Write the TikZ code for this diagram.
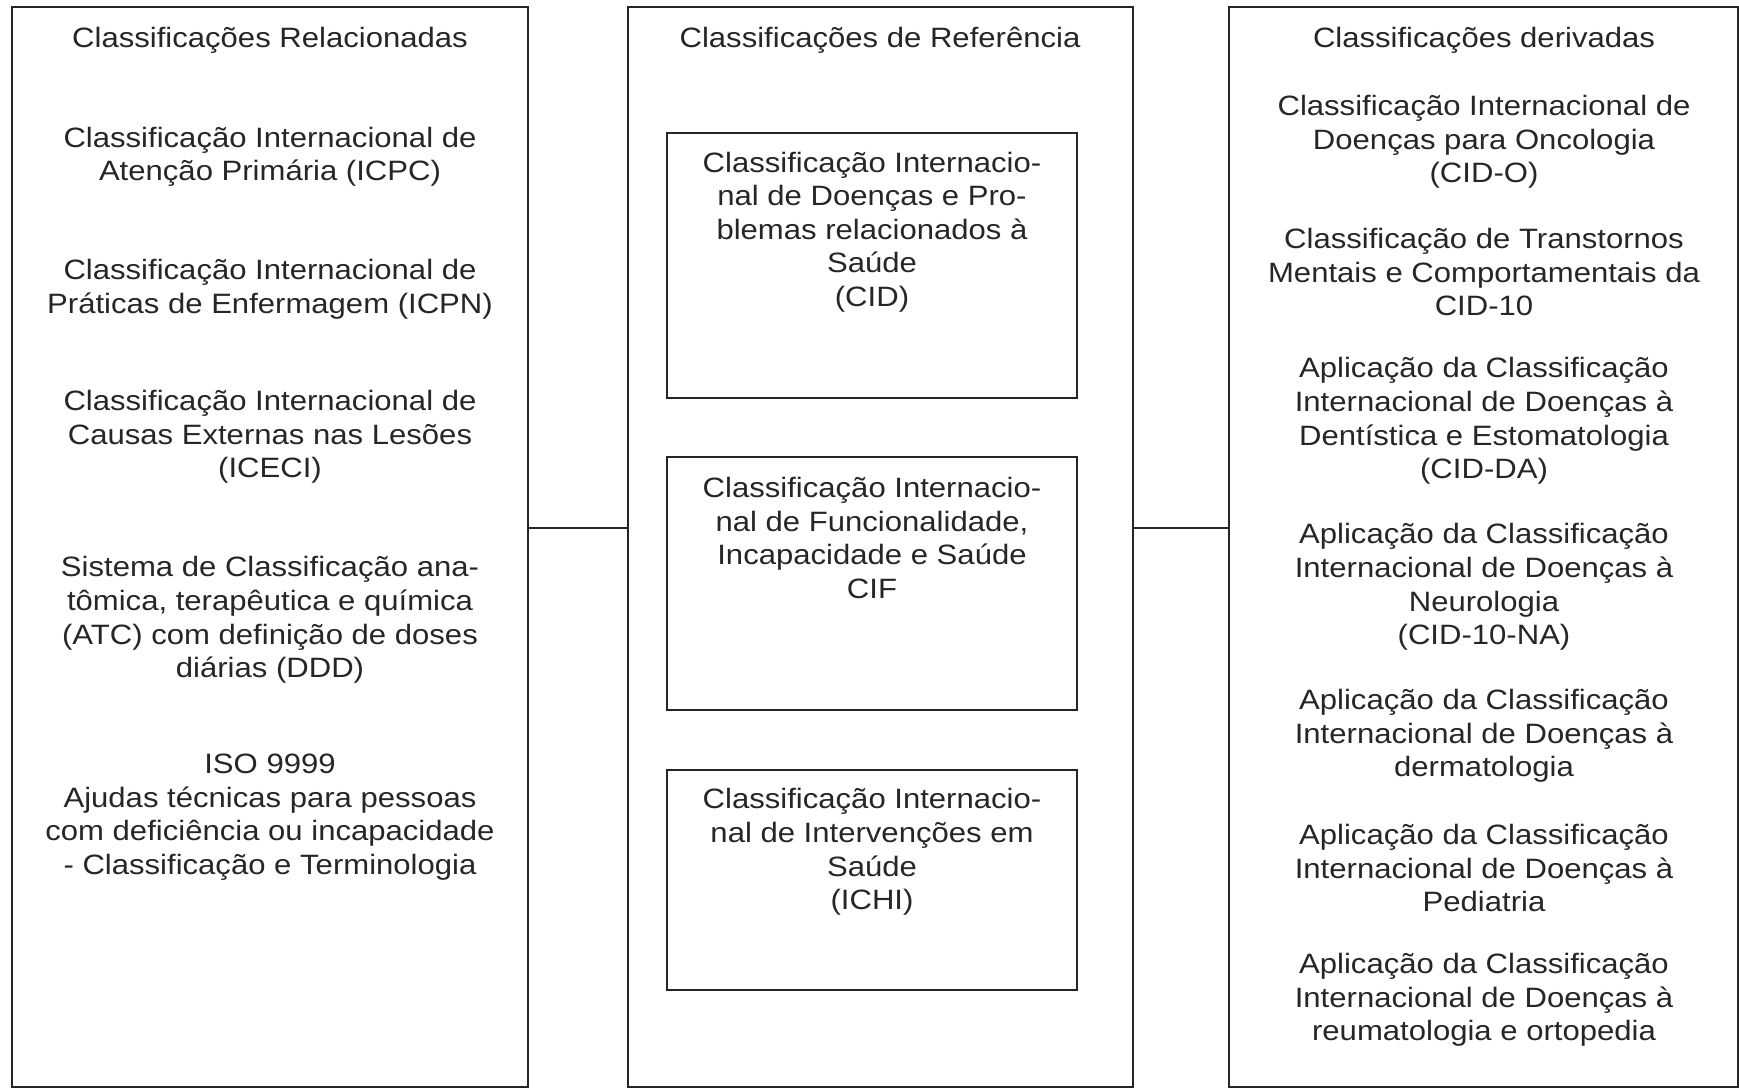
\documentclass[tikz,border=0pt]{standalone}
\usepackage{fontspec}
\setmainfont{Liberation Sans}[FakeStretch=1.11]
\begin{document}
\begin{tikzpicture}[x=0.5pt,y=-0.5pt,
  frame/.style={draw=black!85, line width=1.1pt, inner sep=0pt, rectangle},
  txt/.style={font=\fontsize{14}{16.8}\selectfont, align=center, inner sep=0pt, text=black!85},
  conn/.style={draw=black!85, line width=1.1pt}]
\useasboundingbox (0,0) rectangle (1739,1088);
% outer columns
\node[frame, minimum width=258pt, minimum height=540pt] (lbox) at (270,547) {};
\node[frame, minimum width=252.5pt, minimum height=540pt] (mbox) at (880.5,547) {};
\node[frame, minimum width=254.5pt, minimum height=540pt] (rbox) at (1483.5,547) {};
% inner boxes
\node[frame, minimum width=205pt, minimum height=132.5pt] (cid) at (872,265.5) {};
\node[frame, minimum width=205pt, minimum height=126.5pt] (cif) at (872,583.5) {};
\node[frame, minimum width=205pt, minimum height=110pt] (ichi) at (872,880) {};
% connectors
\coordinate (cy) at (0,528);
\draw[conn] (lbox.east |- cy) -- (mbox.west |- cy);
\draw[conn] (mbox.east |- cy) -- (rbox.west |- cy);
% titles
\node[txt] (lt) at (270,40) {Classificações Relacionadas};
\node[txt] (mt) at (880,40) {Classificações de Referência};
\node[txt] (rt) at (1484,40) {Classificações derivadas};
% left texts
\node[txt] (l1) at (270,157) {Classificação Internacional de\\Atenção Primária (ICPC)};
\node[txt] (l2) at (270,289) {Classificação Internacional de\\Práticas de Enfermagem (ICPN)};
\node[txt] (l3) at (270,437) {Classificação Internacional de\\Causas Externas nas Lesões\\(ICECI)};
\node[txt] (l4) at (270,620) {Sistema de Classificação ana-\\tômica, terapêutica e química\\(ATC) com definição de doses\\diárias (DDD)};
\node[txt] (l5) at (270,817) {ISO 9999\\Ajudas técnicas para pessoas\\com deficiência ou incapacidade\\- Classificação e Terminologia};
% middle texts
\node[txt] (m1) at (872,232) {Classificação Internacio-\\nal de Doenças e Pro-\\blemas relacionados à\\Saúde\\(CID)};
\node[txt] (m2) at (872,538) {Classificação Internacio-\\nal de Funcionalidade,\\Incapacidade e Saúde\\CIF};
\node[txt] (m3) at (872,852) {Classificação Internacio-\\nal de Intervenções em\\Saúde\\(ICHI)};
% right texts
\node[txt] (r1) at (1484,142) {Classificação Internacional de\\Doenças para Oncologia\\(CID-O)};
\node[txt] (r2) at (1484,272) {Classificação de Transtornos\\Mentais e Comportamentais da\\CID-10};
\node[txt] (r3) at (1484,421) {Aplicação da Classificação\\Internacional de Doenças à\\Dentística e Estomatologia\\(CID-DA)};
\node[txt] (r4) at (1484,587) {Aplicação da Classificação\\Internacional de Doenças à\\Neurologia\\(CID-10-NA)};
\node[txt] (r5) at (1484,736) {Aplicação da Classificação\\Internacional de Doenças à\\dermatologia};
\node[txt] (r6) at (1484,868) {Aplicação da Classificação\\Internacional de Doenças à\\Pediatria};
\node[txt] (r7) at (1484,1000) {Aplicação da Classificação\\Internacional de Doenças à\\reumatologia e ortopedia};
\end{tikzpicture}
\end{document}
